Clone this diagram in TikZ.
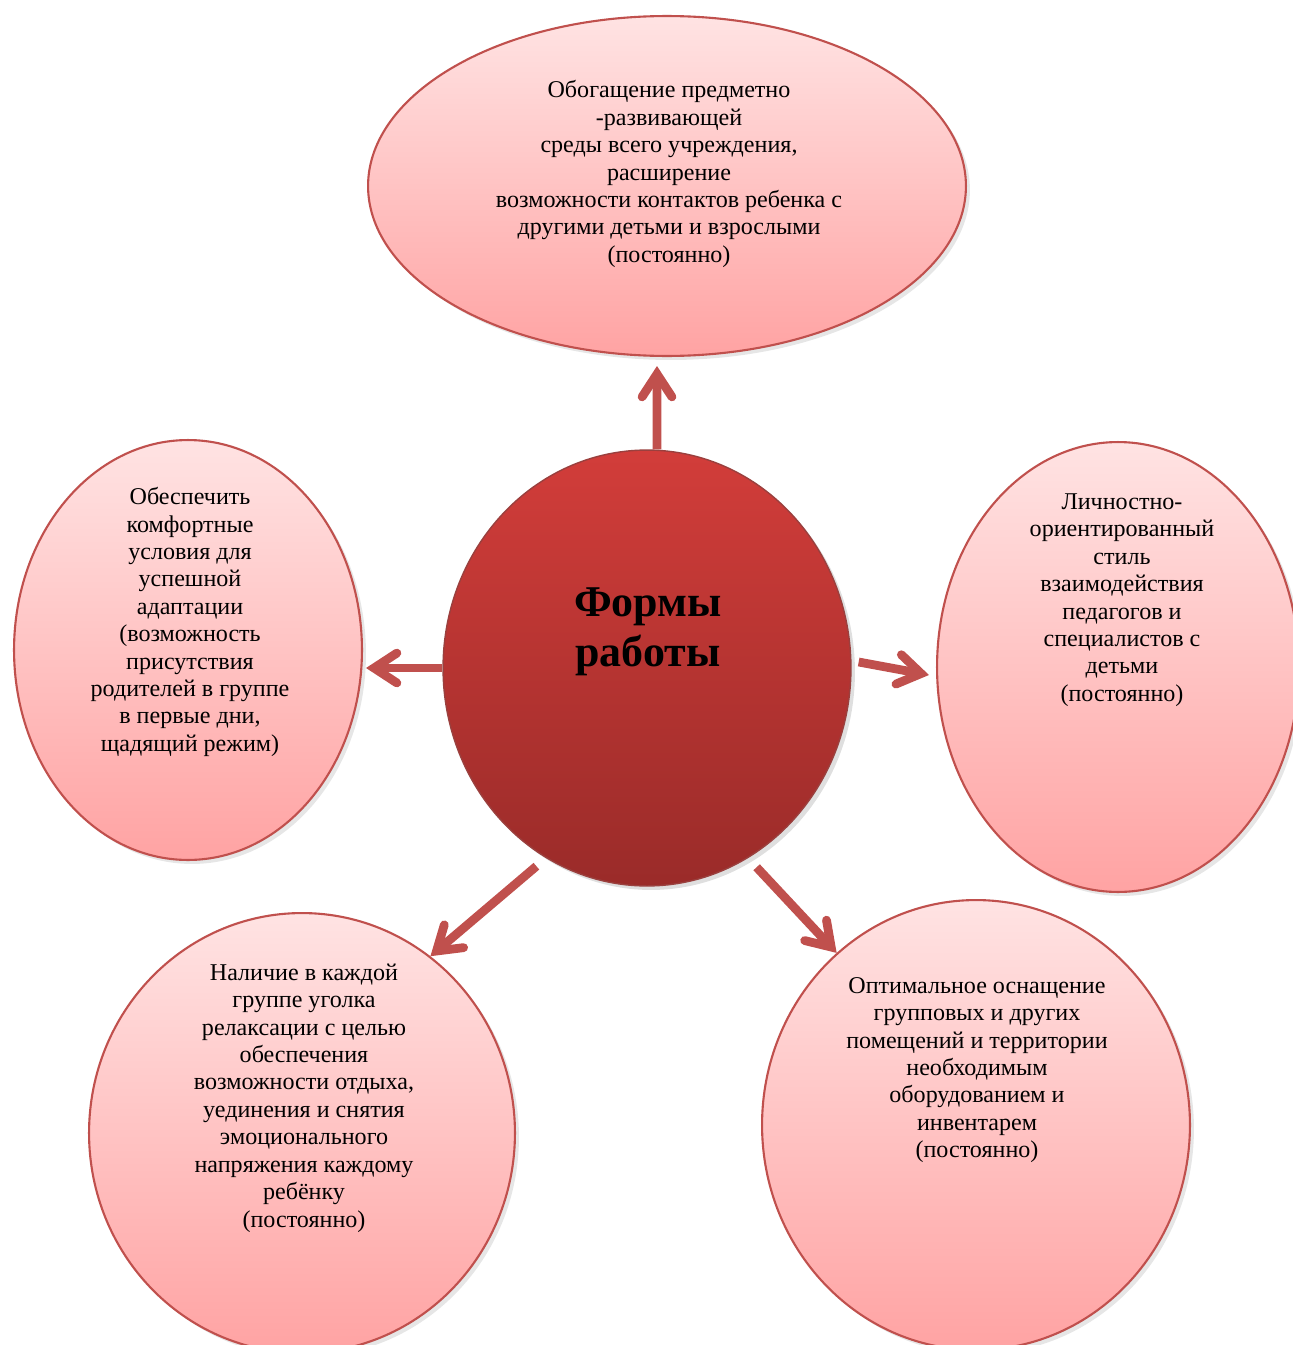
\documentclass[tikz,border=0pt]{standalone}
\usepackage{fontspec}
\setmainfont{Liberation Serif}
\usepackage{tikz}
\usetikzlibrary{shapes.geometric,arrows.meta,shadows}

\definecolor{rimred}{HTML}{C0504D}
\definecolor{paletop}{HTML}{FFE3E3}
\definecolor{palebot}{HTML}{FFA3A3}
\definecolor{coretop}{HTML}{D23D3A}
\definecolor{corebot}{HTML}{9A2B29}

\tikzset{
  bubble/.style={ellipse, draw=rimred, line width=1.2pt, inner sep=0pt,
    top color=paletop, bottom color=palebot,
    drop shadow={opacity=0.2, shadow xshift=0.8mm, shadow yshift=-0.8mm}},
  core/.style={ellipse, draw=rimred!80!black, line width=0.8pt, inner sep=0pt,
    top color=coretop, bottom color=corebot,
    drop shadow={opacity=0.25, shadow xshift=0.8mm, shadow yshift=-0.8mm}},
  txt/.style={align=center, font=\fontsize{13.7}{15.6}\selectfont},
  conn/.style={draw=rimred, line width=5pt,
    -{Straight Barb[length=13pt, width=17pt, line cap=round]}}
}

\begin{document}
\begin{tikzpicture}[x=0.02cm, y=-0.02cm]
        \clip (0,0) rectangle (1293,1345);

        \node[core] (C) [minimum width=8.16cm, minimum height=8.72cm] at (647,668) {};
        \node[bubble] (T) [minimum width=11.96cm, minimum height=6.8cm] at (667,186) {};
        \node[bubble] (L) [minimum width=6.96cm, minimum height=8.4cm] at (188,650) {};
        \node[bubble] (R) [minimum width=7.24cm, minimum height=9.0cm] at (1118,667) {};
        \node[bubble] (BL) [minimum width=8.52cm, minimum height=8.8cm] at (302,1133) {};
        \node[bubble] (BR) [minimum width=8.56cm, minimum height=9.0cm] at (976,1125) {};

        % texts
        \node[align=center, font=\fontsize{25}{28.5}\selectfont\bfseries] (Ctxt) at (648,632) {Формы\\работы};
        \node[txt] (Ttxt) at (669,174) {Обогащение предметно\\-развивающей\\среды всего учреждения,\\расширение\\возможности контактов ребенка с\\другими детьми и взрослыми\\(постоянно)};
        \node[txt] (Ltxt) at (190,622) {Обеспечить\\комфортные\\условия для\\успешной\\адаптации\\(возможность\\присутствия\\родителей в группе\\в первые дни,\\щадящий режим)};
        \node[txt] (Rtxt) at (1122,600) {Личностно-\\ориентированный\\стиль\\взаимодействия\\педагогов и\\специалистов с\\детьми\\(постоянно)};
        \node[txt] (BLtxt) at (304,1098) {Наличие в каждой\\группе уголка\\релаксации с целью\\обеспечения\\возможности отдыха,\\уединения и снятия\\эмоционального\\напряжения каждому\\ребёнку\\(постоянно)};
        \node[txt] (BRtxt) at (977,1070) {Оптимальное оснащение\\групповых и других\\помещений и территории\\необходимым\\оборудованием и\\инвентарем\\(постоянно)};

        % arrows
        \draw[conn] ([xshift=2mm]C.north) -- ([xshift=-2mm, yshift=-1.8mm]T.south);
        \draw[conn] (C.west) -- ([xshift=0.6mm]L.east |- C.west);
        \draw[conn] ([xshift=1.4mm, yshift=1.2mm]C.east) -- ([xshift=-1.4mm, yshift=-1.6mm]R.west);
        \draw[conn, shorten <=2.5mm] (C.-118) -- (BL.54);
        \draw[conn, shorten <=2.5mm] (C.-62) -- (BR.129);
    \end{tikzpicture}
\end{document}
